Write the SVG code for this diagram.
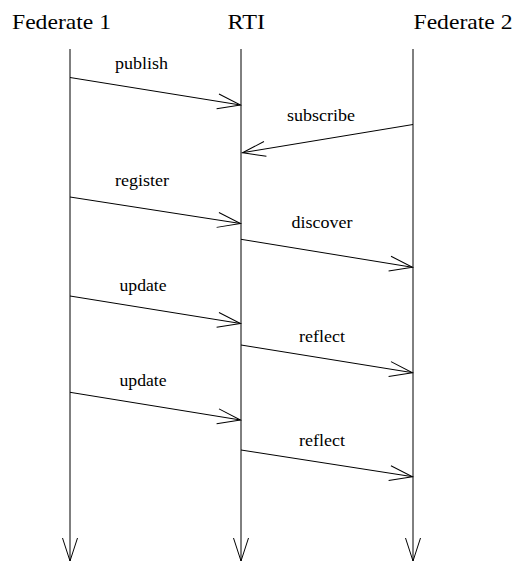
<svg xmlns="http://www.w3.org/2000/svg" width="515" height="563" viewBox="0 0 515 563">
  <style>
    .title { font-family: "Liberation Serif", "Times New Roman", serif; font-size: 22px; fill: #000; }
    .label { font-family: "Liberation Serif", "Times New Roman", serif; font-size: 17px; fill: #000; text-anchor: middle; }
    .life { stroke: #000; stroke-width: 1; fill: none; marker-end: url(#open); }
    .msg { stroke: #000; stroke-width: 1; fill: none; marker-end: url(#open); }
  </style>
  <defs>
    <marker id="open" markerUnits="userSpaceOnUse" markerWidth="30" markerHeight="20" viewBox="-24 -10 30 20" refX="0" refY="0" orient="auto" overflow="visible">
      <path d="M-23,-7.5 L0,0 L-23,7.5" fill="none" stroke="#000" stroke-width="1"/>
    </marker>
  </defs>
  <rect width="515" height="563" fill="#fff"/>

  <!-- participants with their lifelines -->
  <g id="federate1">
    <text class="title" x="12" y="29" textLength="99" lengthAdjust="spacingAndGlyphs">Federate 1</text>
    <line class="life" x1="70" y1="49" x2="70" y2="561"/>
  </g>
  <g id="rti">
    <text class="title" x="227.5" y="29" textLength="37.5" lengthAdjust="spacingAndGlyphs">RTI</text>
    <line class="life" x1="241" y1="49" x2="241" y2="561"/>
  </g>
  <g id="federate2">
    <text class="title" x="413.5" y="29" textLength="99" lengthAdjust="spacingAndGlyphs">Federate 2</text>
    <line class="life" x1="413" y1="49" x2="413" y2="561"/>
  </g>

  <!-- messages -->
  <g id="connectors">
    <line class="msg" x1="70" y1="77.5" x2="240.5" y2="105"/>
    <text class="label" x="141.5" y="69" textLength="53" lengthAdjust="spacingAndGlyphs">publish</text>

    <line class="msg" x1="413" y1="124.5" x2="242.5" y2="152.7"/>
    <text class="label" x="321" y="120.5" textLength="68" lengthAdjust="spacingAndGlyphs">subscribe</text>

    <line class="msg" x1="70" y1="197" x2="240.5" y2="223.5"/>
    <text class="label" x="142" y="185.5" textLength="54" lengthAdjust="spacingAndGlyphs">register</text>

    <line class="msg" x1="241" y1="239.3" x2="412.5" y2="267.3"/>
    <text class="label" x="322" y="228" textLength="61" lengthAdjust="spacingAndGlyphs">discover</text>

    <line class="msg" x1="70" y1="296" x2="240.5" y2="323.5"/>
    <text class="label" x="143" y="291" textLength="47" lengthAdjust="spacingAndGlyphs">update</text>

    <line class="msg" x1="241" y1="345" x2="412.5" y2="372.7"/>
    <text class="label" x="322" y="341.5" textLength="46" lengthAdjust="spacingAndGlyphs">reflect</text>

    <line class="msg" x1="70" y1="392.3" x2="240.5" y2="420"/>
    <text class="label" x="143" y="386" textLength="47" lengthAdjust="spacingAndGlyphs">update</text>

    <line class="msg" x1="241" y1="450" x2="412.5" y2="476.7"/>
    <text class="label" x="322" y="446" textLength="46" lengthAdjust="spacingAndGlyphs">reflect</text>
  </g>
</svg>
